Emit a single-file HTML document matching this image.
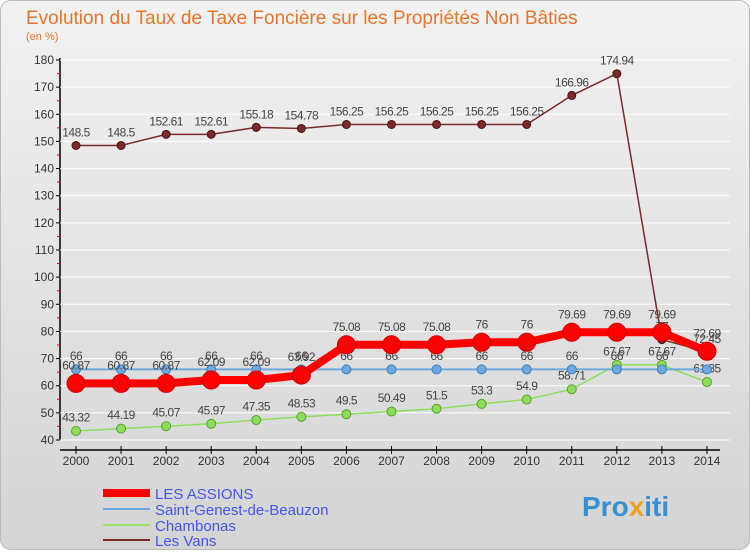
<!DOCTYPE html>
<html><head><meta charset="utf-8"><style>
body{margin:0;width:750px;height:550px;overflow:hidden;font-family:"Liberation Sans",sans-serif}
</style></head><body>
<svg id="c" width="750" height="550" xmlns="http://www.w3.org/2000/svg">
<defs><linearGradient id="bg" x1="0" y1="0" x2="0" y2="1"><stop offset="0" stop-color="#f2f2f2"/><stop offset="1" stop-color="#d4d4d4"/></linearGradient></defs>
<rect x="0.5" y="0.5" width="749" height="549" rx="10" fill="url(#bg)" stroke="#bbb"/>
<text x="26" y="24" font-size="19" fill="#e8742e">Evolution du Taux de Taxe Foncière sur les Propriétés Non Bâties</text>
<text x="26" y="40" font-size="11" fill="#e8742e">(en %)</text>
<g id="g"></g>
<g>
<line x1="103" y1="493" x2="150" y2="493" stroke="#f00" stroke-width="8"/>
<text x="155" y="499" font-size="15" fill="#4455ee">LES ASSIONS</text>
<line x1="103" y1="509" x2="150" y2="509" stroke="#6fa8dc" stroke-width="2"/>
<text x="155" y="515" font-size="15" fill="#4455ee">Saint-Genest-de-Beauzon</text>
<line x1="103" y1="525" x2="150" y2="525" stroke="#9de06b" stroke-width="2"/>
<text x="155" y="531" font-size="15" fill="#4455ee">Chambonas</text>
<line x1="103" y1="540" x2="150" y2="540" stroke="#7a2a2a" stroke-width="2"/>
<text x="155" y="546" font-size="15" fill="#4455ee">Les Vans</text>
</g>
<text x="582" y="516" font-size="28" font-weight="bold" fill="#3a8fd0">Pro<tspan fill="#f0a020">x</tspan>iti</text>
</svg>
<script>
const years=[2000,2001,2002,2003,2004,2005,2006,2007,2008,2009,2010,2011,2012,2013,2014];
const yTicks=[40,50,60,70,80,90,100,110,120,130,140,150,160,170,180];
const assions=[60.87,60.87,60.87,62.09,62.09,63.92,75.08,75.08,75.08,76,76,79.69,79.69,79.69,72.69];
const genest=[66,66,66,66,66,66,66,66,66,66,66,66,66,66,66];
const chambonas=[43.32,44.19,45.07,45.97,47.35,48.53,49.5,50.49,51.5,53.3,54.9,58.71,67.67,67.67,61.35];
const vans=[148.5,148.5,152.61,152.61,155.18,154.78,156.25,156.25,156.25,156.25,156.25,166.96,174.94,77,72.45];
const NS="http://www.w3.org/2000/svg",g=document.getElementById('g');
const X=i=>76+i*45.07, Y=v=>440-(v-40)*380/140;
function el(t,a,p){const e=document.createElementNS(NS,t);for(const k in a)e.setAttribute(k,a[k]);(p||g).appendChild(e);return e;}
let ax=el('line',{x1:60,y1:58,x2:60,y2:440,stroke:'#000','stroke-width':1.5});


ax=el('line',{x1:60,y1:450,x2:720,y2:450,stroke:'#000','stroke-width':1.5});


yTicks.forEach((v,i)=>{
 el('line',{x1:60,y1:Y(v),x2:730,y2:Y(v),stroke:'#fff','stroke-width':1});
 el('line',{x1:56,y1:Y(v),x2:60,y2:Y(v),stroke:'#000'});
 if(i<yTicks.length-1)el('line',{x1:57,y1:Y(v+5),x2:60,y2:Y(v+5),stroke:'#f00'});
 const t=el('text',{x:54,y:Y(v)+4,'font-size':12,'text-anchor':'end',fill:'#333'});t.textContent=v;
 
 
});
years.forEach((yr,i)=>{
 el('line',{x1:X(i),y1:446,x2:X(i),y2:454,stroke:'#000'});
 const t=el('text',{x:X(i),y:465,'font-size':12,'text-anchor':'middle',fill:'#333'});t.textContent=yr;
 
 
});
function series(d,col,w,r,name,dark){
 const s=el('g',{});
 
 
 el('polyline',{points:d.map((v,i)=>X(i)+','+Y(v)).join(' '),fill:'none',stroke:col,'stroke-width':w,'stroke-linejoin':'round'},s);
 d.forEach((v,i)=>{
  const c=el('circle',{cx:X(i),cy:Y(v),r:r,fill:col,stroke:dark,'stroke-width':1},s);
  
  
  const t=el('text',{x:X(i),y:Y(v)-r-5,'font-size':12,'text-anchor':'middle',fill:'#444','letter-spacing':'-0.5'},s);t.textContent=v;
  
  
 });
}
series(chambonas,'#8fdc5a',1.5,4.5,'chambonas','#5aa030');
series(genest,'#6fa8dc',2,4.5,'saint-genest','#3a80c0');
series(vans,'#7a2a2a',1.5,4,'les-vans','#4a1010');
series(assions,'#ff0000',8,9,'les-assions','#d00000');
</script>
</body></html>
